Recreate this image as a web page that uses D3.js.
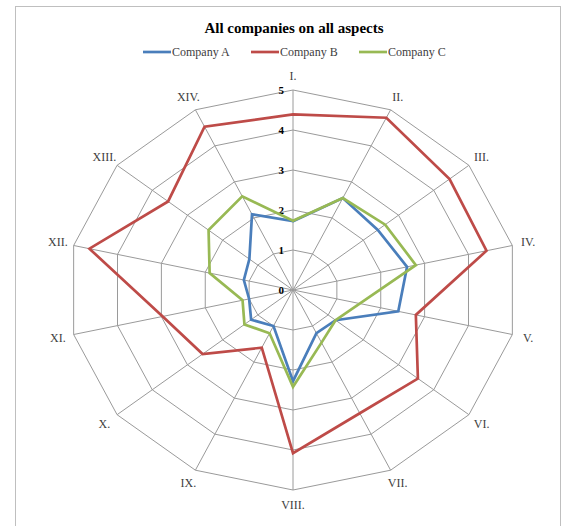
<!DOCTYPE html>
<html>
<head>
<meta charset="utf-8">
<script src="https://cdn.jsdelivr.net/npm/d3@7"></script>
<style>
  html, body { margin: 0; padding: 0; background: #fff; }
  svg { display: block; }
  text { font-family: "Liberation Serif", "Times New Roman", serif; }
</style>
</head>
<body>
<svg id="chart" width="568" height="526"></svg>
<script>
// Aspects (axes of the radar), clockwise from the top
const aspects = ["I.", "II.", "III.", "IV.", "V.", "VI.", "VII.", "VIII.", "IX.", "X.", "XI.", "XII.", "XIII.", "XIV."];

// Scores per aspect
const companyA = [1.72, 2.55, 2.41, 2.6, 2.4, 1.21, 1.2, 2.28, 1.0, 1.19, 1.0, 1.12, 1.24, 2.1];
const companyB = [4.39, 4.78, 4.45, 4.41, 2.8, 3.55, 3.42, 4.08, 1.6, 2.57, 2.97, 4.64, 3.55, 4.53];
const companyC = [1.73, 2.55, 2.62, 2.8, 1.52, 1.21, 1.46, 2.42, 1.2, 1.38, 1.15, 1.9, 2.4, 2.6];

const seriesNames = ["Company A", "Company B", "Company C"];
const seriesColors = ["#4A7EBB", "#BE4B48", "#98B954"];
const tickValues = [0, 1, 2, 3, 4, 5];

const series = [companyA, companyB, companyC].map((values, i) => ({
  name: seriesNames[i], color: seriesColors[i], values
}));

const svg = d3.select("#chart");
const cx = 293, cy = 290;

// Radial value scales (the plot area is slightly wider than tall)
const rx = d3.scaleLinear().domain([0, 5]).range([0, 225]);
const ry = d3.scaleLinear().domain([0, 5]).range([0, 200]);
const angle = d3.scaleLinear().domain([0, aspects.length]).range([0, 2 * Math.PI]);

const px = (i, v) => cx + rx(v) * Math.sin(angle(i));
const py = (i, v) => cy - ry(v) * Math.cos(angle(i));

// Outer frame
svg.append("rect")
  .attr("x", 15.5).attr("y", 6.5)
  .attr("width", 545).attr("height", 530)
  .attr("fill", "none").attr("stroke", "#BFBFBF").attr("stroke-width", 1);

const grid = svg.append("g").attr("fill", "none").attr("stroke", "#9A9A9A").attr("stroke-width", 1);

// Level polygons
const ring = d3.line().curve(d3.curveLinearClosed);
tickValues.filter(t => t > 0).forEach(t => {
  grid.append("path")
    .attr("d", ring(aspects.map((_, i) => [px(i, t), py(i, t)])));
});

// Spokes
aspects.forEach((_, i) => {
  grid.append("line")
    .attr("x1", cx).attr("y1", cy)
    .attr("x2", px(i, 5)).attr("y2", py(i, 5));
});

// Tick labels along the first axis
svg.append("g").selectAll("text")
  .data(tickValues)
  .join("text")
  .attr("x", cx - 9)
  .attr("y", d => py(0, d))
  .attr("dy", "0.35em")
  .attr("text-anchor", "end")
  .attr("font-size", 11)
  .attr("font-weight", "bold")
  .attr("fill", "#000")
  .text(d => d);

// Aspect labels
svg.append("g").selectAll("text")
  .data(aspects)
  .join("text")
  .attr("x", (d, i) => px(i, 5.36))
  .attr("y", (d, i) => py(i, 5.36))
  .attr("dy", "0.35em")
  .attr("text-anchor", "middle")
  .attr("font-size", 12)
  .attr("fill", "#404040")
  .text(d => d);

// Series outlines
const seriesG = svg.append("g").attr("fill", "none").attr("stroke-width", 2.7).attr("stroke-linejoin", "miter");
series.forEach(s => {
  seriesG.append("path")
    .attr("stroke", s.color)
    .attr("d", ring(s.values.map((v, i) => [px(i, v), py(i, v)])));
});

// Title
svg.append("text")
  .attr("x", 294).attr("y", 28)
  .attr("dy", "0.35em")
  .attr("text-anchor", "middle")
  .attr("font-size", 15)
  .attr("font-weight", "bold")
  .attr("fill", "#000")
  .text("All companies on all aspects");

// Legend
const legendX = [143, 251, 359];
const legend = svg.append("g");
series.forEach((s, i) => {
  const g = legend.append("g").attr("transform", `translate(${legendX[i]},52)`);
  g.append("line").attr("x1", 0).attr("x2", 28).attr("y1", 0).attr("y2", 0)
    .attr("stroke", s.color).attr("stroke-width", 2.7);
  g.append("text").attr("x", 29).attr("y", 0).attr("dy", "0.35em")
    .attr("font-size", 12).attr("fill", "#404040").text(s.name);
});
</script>
</body>
</html>
